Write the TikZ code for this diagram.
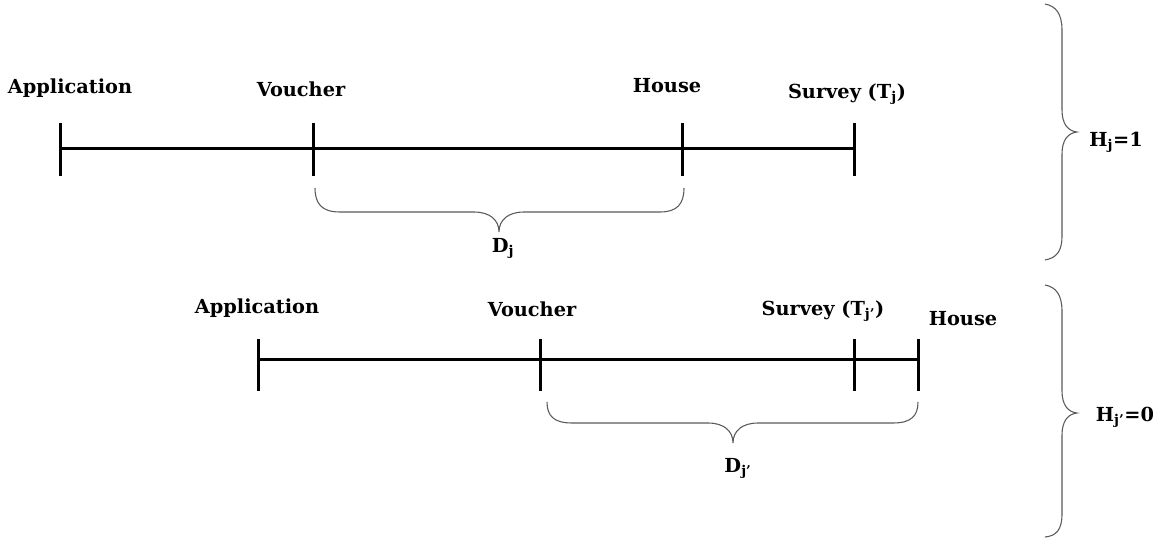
\documentclass[tikz,border=0pt]{standalone}
\usepackage{fontspec}
\setmainfont{DejaVu Serif}
\tikzset{
  timeline/.style={line width=2.25pt},
  tick/.style={line width=2.25pt},
  brc/.style={line width=0.8pt,color=black!65},
  lbl/.style={anchor=base,inner sep=0.75pt,font=\fontsize{14.5}{17}\selectfont\bfseries},
}
\begin{document}
\begin{tikzpicture}[x=0.75pt,y=0.75pt,yscale=-1,xscale=1]
\useasboundingbox (0,0) rectangle (1168,546);

%Top timeline (H=1)
\coordinate (appA) at (60,148);
\coordinate (vouA) at (313,148);
\coordinate (houA) at (682,148);
\coordinate (surA) at (854,148);
\draw[timeline] (appA) -- (vouA) -- (houA) -- (surA) ;
\foreach \p in {appA,vouA,houA,surA}
  \draw[tick] (\p) ++(0,-25) -- ++(0,53) ;

%Bottom timeline (H=0)
\coordinate (appB) at (258,359);
\coordinate (vouB) at (540,359);
\coordinate (surB) at (854,359);
\coordinate (houB) at (918,359);
\draw[timeline] (appB) -- (vouB) -- (surB) -- (houB) ;
\foreach \p in {appB,vouB,surB,houB}
  \draw[tick] (\p) ++(0,-20) -- ++(0,52) ;

%Curve Lines (brace D top)
\draw[brc] (315,188) .. controls (315,204) and (322,212) .. (340,212) -- (474,212) .. controls (490,212) and (499,220) .. (499,232) .. controls (499,220) and (508,212) .. (524,212) -- (660,212) .. controls (677,212) and (684,204) .. (684,188) ;
%Curve Lines (brace D bottom)
\draw[brc] (547,402) .. controls (547,416) and (554,423) .. (572,423) -- (708,423) .. controls (724,423) and (733,431) .. (733,443) .. controls (733,431) and (742,423) .. (758,423) -- (893,423) .. controls (911,423) and (918,416) .. (918,402) ;
%Curve Lines (brace H top)
\draw[brc] (1045,4) .. controls (1056,6) and (1062,14) .. (1062,30) -- (1062,110) .. controls (1062,124) and (1068,131) .. (1077,132) .. controls (1068,133) and (1062,140) .. (1062,154) -- (1062,236) .. controls (1062,252) and (1056,258) .. (1045,260) ;
%Curve Lines (brace H bottom)
\draw[brc] (1045,285) .. controls (1056,287) and (1062,295) .. (1062,311) -- (1062,391) .. controls (1062,405) and (1068,412) .. (1077,413) .. controls (1068,414) and (1062,421) .. (1062,435) -- (1062,514) .. controls (1062,530) and (1056,536) .. (1045,537) ;

% Text Node
\node[lbl] (appAlbl) at (70,93) {Application};
% Text Node
\node[lbl] (vouAlbl) at (301,96) {Voucher};
% Text Node
\node[lbl] (houAlbl) at (667,92) {House};
% Text Node
\node[lbl] (surAlbl) at (847,98) {Survey (T\textsubscript{j})};
% Text Node
\node[lbl] (appBlbl) at (257,313) {Application};
% Text Node
\node[lbl] (vouBlbl) at (532,316) {Voucher};
% Text Node
\node[lbl] (surBlbl) at (823,315) {Survey (T\textsubscript{j’})};
% Text Node
\node[lbl] (houBlbl) at (963,325) {House};
% Text Node
\node[lbl] (durA) at (503,252) {D\textsubscript{j}};
% Text Node
\node[lbl] (durB) at (738,472) {D\textsubscript{j’}};
% Text Node
\node[lbl] (hA) at (1116,146) {H\textsubscript{j}=1};
% Text Node
\node[lbl] (hB) at (1125,421) {H\textsubscript{j’}=0};

\end{tikzpicture}
\end{document}
